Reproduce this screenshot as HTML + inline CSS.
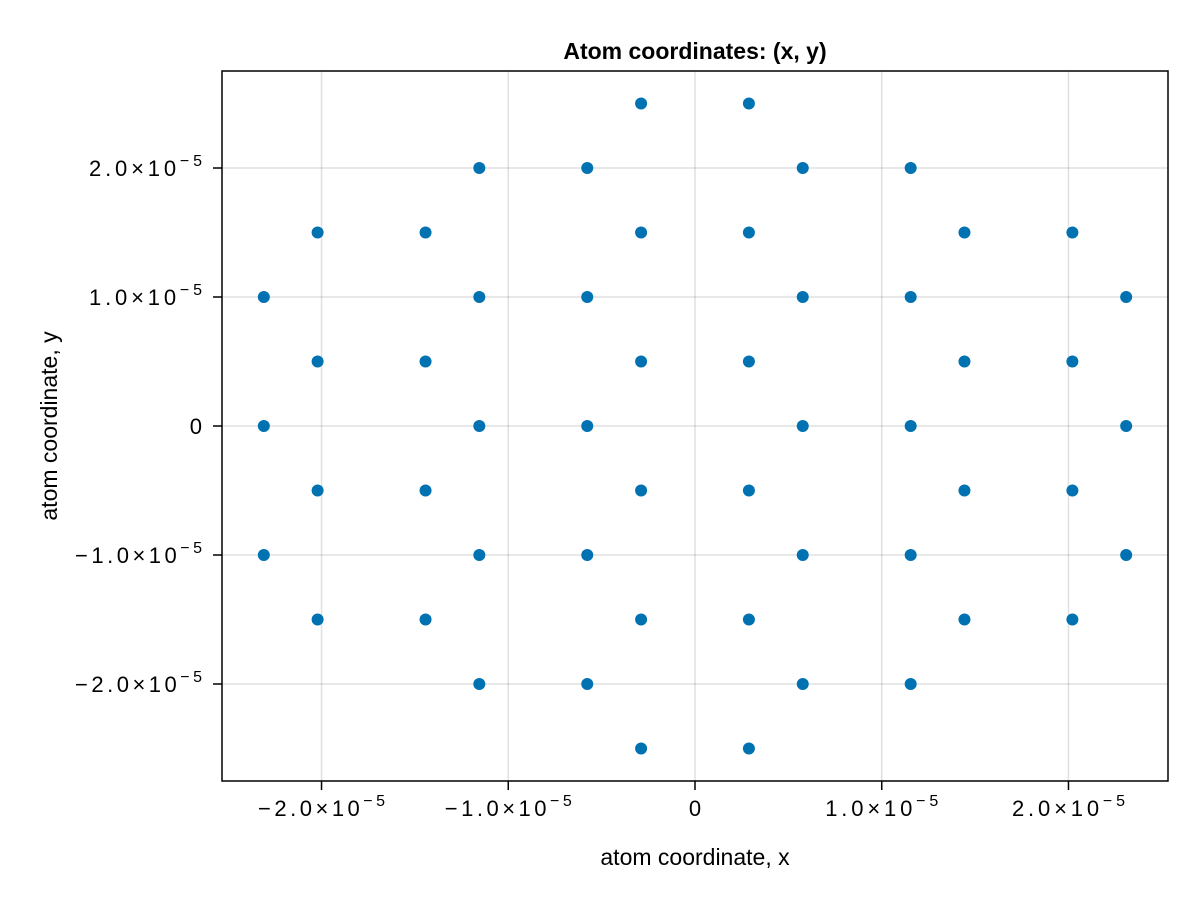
<!DOCTYPE html>
<html><head><meta charset="utf-8"><style>
body{margin:0;background:#fff;}
svg text{font-family:"Liberation Sans",sans-serif;fill:#000;}
</style></head><body>
<svg id="chart" width="1200" height="900" viewBox="0 0 1200 900" xmlns="http://www.w3.org/2000/svg">
<rect width="1200" height="900" fill="#fff"/>
<g id="grid"></g>
<g id="pts"></g>
<rect x="222" y="71" width="946" height="710" fill="none" stroke="#000" stroke-width="1.5"/>
<g id="ticks"></g>
<text x="695" y="59" text-anchor="middle" font-size="23" font-weight="bold">Atom coordinates: (x, y)</text>
<text x="695" y="865" text-anchor="middle" font-size="23">atom coordinate, x</text>
<text transform="translate(57,426) rotate(-90)" text-anchor="middle" font-size="23">atom coordinate, y</text>
</svg>
<script>
const xTicks=[-2,-1,0,1,2];
const yTicks=[-2,-1,0,1,2];
const xTickLabels=["−2.0×10","−1.0×10","0","1.0×10","2.0×10"];
const yTickLabels=["−2.0×10","−1.0×10","0","1.0×10","2.0×10"];
const ptsX=[-0.2887,0.2887,
-1.155,-0.577,0.577,1.155,
-2.021,-1.443,-0.2887,0.2887,1.443,2.021,
-2.309,-1.155,-0.577,0.577,1.155,2.309,
-2.021,-1.443,-0.2887,0.2887,1.443,2.021,
-2.309,-1.155,-0.577,0.577,1.155,2.309,
-2.021,-1.443,-0.2887,0.2887,1.443,2.021,
-2.309,-1.155,-0.577,0.577,1.155,2.309,
-2.021,-1.443,-0.2887,0.2887,1.443,2.021,
-1.155,-0.577,0.577,1.155,
-0.2887,0.2887];
const ptsY=[2.5,2.5,
2,2,2,2,
1.5,1.5,1.5,1.5,1.5,1.5,
1,1,1,1,1,1,
0.5,0.5,0.5,0.5,0.5,0.5,
0,0,0,0,0,0,
-0.5,-0.5,-0.5,-0.5,-0.5,-0.5,
-1,-1,-1,-1,-1,-1,
-1.5,-1.5,-1.5,-1.5,-1.5,-1.5,
-2,-2,-2,-2,
-2.5,-2.5];
const NS="http://www.w3.org/2000/svg";
const L=222,R=1168,T=71,B=781,xmin=-2.533,xmax=2.533,ymin=-2.752,ymax=2.752;
const sx=v=>L+(v-xmin)/(xmax-xmin)*(R-L);
const sy=v=>B-(v-ymin)/(ymax-ymin)*(B-T);
const grid=document.getElementById('grid'),ticks=document.getElementById('ticks'),pts=document.getElementById('pts');
function mk(tag,a){const e=document.createElementNS(NS,tag);for(const k in a)e.setAttribute(k,a[k]);return e;}
function lab(t,text,v){
  t.textContent=text;
  if(v!==0){
    t.setAttribute('textLength', text[0]==='−'?127:113);
    t.setAttribute('lengthAdjust','spacing');
    const s=mk('tspan',{dy:-10,'font-size':16});s.textContent='−5';t.appendChild(s);
  }
}
xTicks.forEach((v,i)=>{
  const g=mk('line',{x1:sx(v),x2:sx(v),y1:T,y2:B,stroke:'#000','stroke-opacity':0.12,'stroke-width':1.5});
  
  
  grid.appendChild(g);
  const tk=mk('line',{x1:sx(v),x2:sx(v),y1:B,y2:B+9,stroke:'#000','stroke-width':1.5});
  
  
  ticks.appendChild(tk);
  const t=mk('text',{x:sx(v),y:B+35,'text-anchor':'middle','font-size':22});
  
  
  lab(t,xTickLabels[i],v);
  ticks.appendChild(t);
});
yTicks.forEach((v,i)=>{
  const g=mk('line',{x1:L,x2:R,y1:sy(v),y2:sy(v),stroke:'#000','stroke-opacity':0.12,'stroke-width':1.5});
  
  
  grid.appendChild(g);
  const tk=mk('line',{x1:L-9,x2:L,y1:sy(v),y2:sy(v),stroke:'#000','stroke-width':1.5});
  
  
  ticks.appendChild(tk);
  const t=mk('text',{x:L-20,y:sy(v)+8,'text-anchor':'end','font-size':22});
  
  
  lab(t,yTickLabels[i],v);
  ticks.appendChild(t);
});
ptsX.forEach((v,i)=>{
  const c=mk('circle',{cx:sx(v),cy:sy(ptsY[i]),r:6,fill:'#0072b2'});
  
  
  pts.appendChild(c);
});
</script>
</body></html>
